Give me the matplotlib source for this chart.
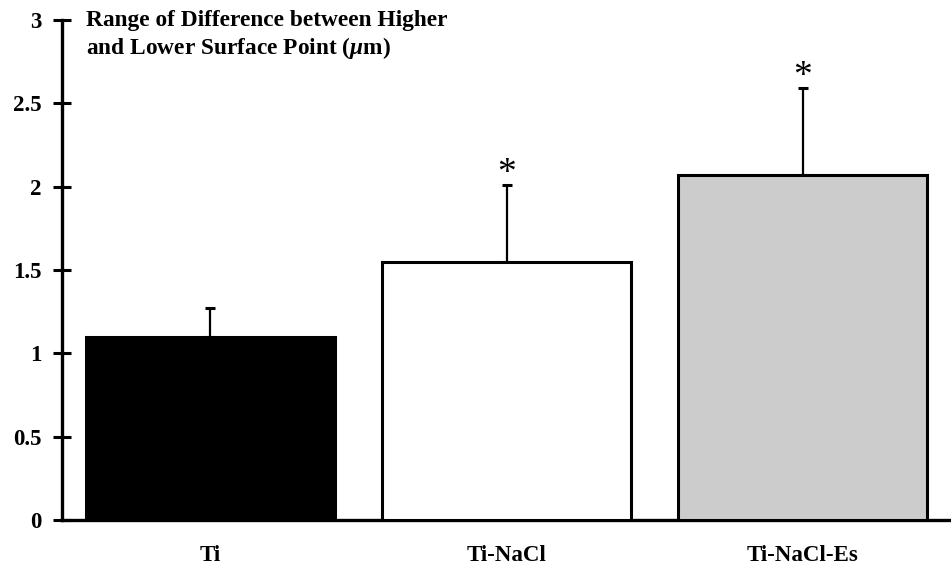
# 导入画图和数据的包
import numpy as np
import matplotlib
matplotlib.use('Agg')
import matplotlib.pyplot as plt

# 设置全局字体
plt.rcParams['font.family'] = ['Liberation Serif', 'DejaVu Serif']
plt.rcParams['font.weight'] = 'bold'
plt.rcParams['mathtext.fontset'] = 'custom'
plt.rcParams['mathtext.it'] = 'Liberation Serif:italic:bold'
plt.rcParams['mathtext.rm'] = 'Liberation Serif:bold'

# =====数据=====
groups = ['Ti', 'Ti-NaCl', 'Ti-NaCl-Es']
means = [1.10, 1.55, 2.07]
sd = [0.17, 0.46, 0.52]
signif = ['', '*', '*']
bar_colors = ['black', 'white', '#cccccc']
y_ticks = [0, 0.5, 1, 1.5, 2, 2.5, 3]
y_tick_labels = ['0', '0.5', '1', '1.5', '2', '2.5', '3']
title = 'Range of Difference between Higher\nand Lower Surface Point ($\\mu$m)'

# 创建画布
fig = plt.figure(figsize=(9.51, 5.69), dpi=100)
ax = fig.add_axes([62/951, 49/569, 1 - 62/951, 500/569])
# 隐藏上侧和右侧的框线
for line in ['right', 'top']:
    ax.spines[line].set_visible(False)
for line in ['left', 'bottom']:
    ax.spines[line].set_linewidth(2.4)

x = np.arange(len(groups))
# 绘制柱状图
ax.bar(x, means, width=0.84, color=bar_colors, edgecolor='black', linewidth=2.2, zorder=3)
# 只画向上的误差线
ax.errorbar(x, means, yerr=[np.zeros(len(sd)), sd], fmt='none', ecolor='black',
            elinewidth=1.6, capsize=3.5, capthick=2.2, zorder=2)
# 显著性星号
for xi, m, s, mark in zip(x, means, sd, signif):
    if mark:
        ax.annotate(mark, (xi, m + s), xytext=(0, -4), textcoords='offset points',
                    ha='center', va='bottom', fontsize=27, fontweight='normal')

ax.set_xlim(-0.5, 2.5)
ax.set_ylim(0, 3)
# 添加刻度
ax.set_yticks(y_ticks)
ax.set_yticklabels(y_tick_labels, fontsize=16.5, fontweight='bold')
ax.set_xticks(x)
ax.set_xticklabels(groups, fontsize=16.5, fontweight='bold')
ax.tick_params(axis='y', direction='inout', length=13, width=2.2, pad=8)
ax.tick_params(axis='x', length=0, pad=18)

# 标题放在左上角
fig.text(86/951, 1 - 10/569, title, ha='left', va='top', fontsize=16.8, fontweight='bold')

# 保存为本地文件
fig.savefig('out.png', format='png', facecolor='white')
